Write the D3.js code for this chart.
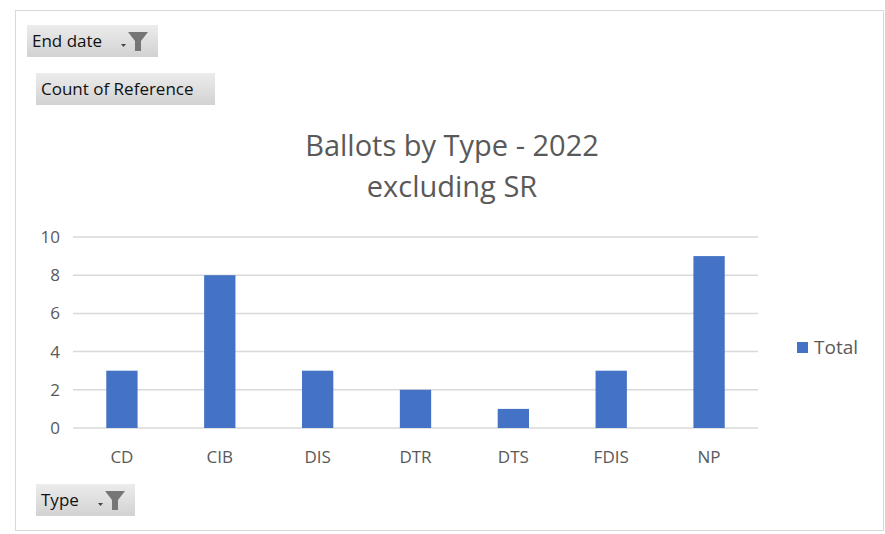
<!DOCTYPE html>
<html lang="en">
<head>
<meta charset="utf-8">
<title>Ballots by Type - 2022</title>
<script src="https://d3js.org/d3.v7.min.js"></script>
<style>
  body { margin: 0; background: #fff; }
  text { font-family: "Open Sans", "Noto Sans", sans-serif; }
</style>
</head>
<body>
<svg id="chart" width="885" height="534"></svg>
<script>
// chart values
var types = ['CD', 'CIB', 'DIS', 'DTR', 'DTS', 'FDIS', 'NP'];
var totals = [3, 8, 3, 2, 1, 3, 9];
var yTicks = [0, 2, 4, 6, 8, 10];
var titleLines = ['Ballots by Type - 2022', 'excluding SR'];
var seriesName = 'Total';

function draw() {
  var svg = d3.select('#chart');
  var blue = '#4472c4';

  // outer frame
  svg.append('rect')
    .attr('x', 15.5).attr('y', 10.5)
    .attr('width', 868).attr('height', 520)
    .attr('fill', '#fff')
    .attr('stroke', '#d9d9d9');

  // button gradient
  var defs = svg.append('defs');
  var grad = defs.append('linearGradient')
    .attr('id', 'btn').attr('x1', 0).attr('y1', 0).attr('x2', 0).attr('y2', 1);
  grad.append('stop').attr('offset', '0%').attr('stop-color', '#ececec');
  grad.append('stop').attr('offset', '100%').attr('stop-color', '#d2d2d2');

  function button(bx, by, w, h, label, funnel) {
    var g = svg.append('g').attr('transform', 'translate(' + bx + ',' + by + ')');
    g.append('rect').attr('width', w).attr('height', h).attr('fill', 'url(#btn)');
    g.append('text')
      .attr('x', 5).attr('y', h / 2 + 6)
      .attr('font-size', 17).attr('fill', '#111')
      .text(label);
    if (funnel) {
      // dropdown mark and funnel icon
      g.append('path')
        .attr('d', 'M' + (w - 37) + ',' + (h / 2 + 3) + 'h5l-2.5,3z')
        .attr('fill', '#444');
      g.append('path')
        .attr('d', 'M' + (w - 30) + ',' + (h / 2 - 9) + 'h20l-7,9v10h-6v-10z')
        .attr('fill', '#767676');
    }
  }
  button(27, 25, 131, 32, 'End date', true);
  button(36, 73, 179, 32, 'Count of Reference', false);
  button(36, 484, 99, 32, 'Type', true);

  // title
  svg.append('g').selectAll('text')
    .data(titleLines)
    .join('text')
    .attr('x', 452)
    .attr('y', function(d, i) { return 156 + i * 41; })
    .attr('text-anchor', 'middle')
    .attr('font-size', 29)
    .attr('fill', '#595959')
    .text(function(d) { return d; });

  // scales
  var x0 = 73, x1 = 758, yTop = 237, yBot = 428;
  var x = d3.scaleBand().domain(types).range([x0, x1]).paddingInner(0.68).paddingOuter(0.34);
  var y = d3.scaleLinear().domain([0, 10]).range([yBot, yTop]);

  // gridlines
  svg.append('g').selectAll('line')
    .data(yTicks)
    .join('line')
    .attr('x1', x0).attr('x2', x1)
    .attr('y1', function(d) { return y(d); })
    .attr('y2', function(d) { return y(d); })
    .attr('stroke', '#d9d9d9')
    .attr('stroke-width', 1.5);

  // y axis
  var yAxis = svg.append('g')
    .attr('transform', 'translate(' + (x0 - 10) + ',0)')
    .call(d3.axisLeft(y).tickValues(yTicks).tickSize(0).tickPadding(3));
  yAxis.select('.domain').remove();
  yAxis.selectAll('text')
    .attr('font-size', 17).attr('fill', '#595959')
    .attr('font-family', '"Open Sans", sans-serif');

  // bars
  svg.append('g').selectAll('rect')
    .data(totals)
    .join('rect')
    .attr('x', function(d, i) { return x(types[i]); })
    .attr('y', function(d) { return y(d); })
    .attr('width', x.bandwidth())
    .attr('height', function(d) { return y(0) - y(d); })
    .attr('fill', blue);

  // x axis
  var xAxis = svg.append('g')
    .attr('transform', 'translate(0,' + yBot + ')')
    .call(d3.axisBottom(x).tickSize(0).tickPadding(23));
  xAxis.select('.domain').remove();
  xAxis.selectAll('text')
    .attr('font-size', 17).attr('fill', '#595959')
    .attr('font-family', '"Open Sans", sans-serif');

  // legend
  var lg = svg.append('g').attr('transform', 'translate(797,342)');
  lg.append('rect').attr('width', 11).attr('height', 11).attr('fill', blue);
  lg.append('text')
    .attr('x', 17).attr('y', 12)
    .attr('font-size', 19).attr('fill', '#595959')
    .text(seriesName);
}
draw();
</script>
</body>
</html>
